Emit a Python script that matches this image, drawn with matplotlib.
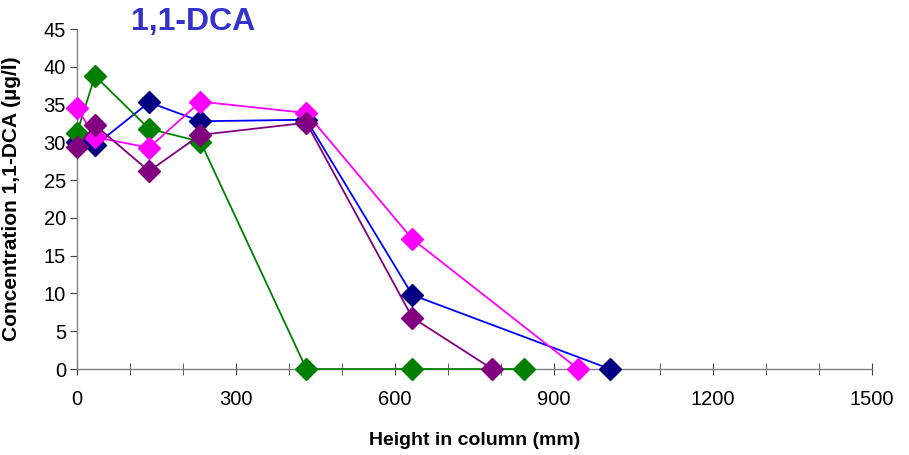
import matplotlib
matplotlib.use("Agg")
import matplotlib.pyplot as plt
from matplotlib.ticker import MultipleLocator

plt.rcParams['font.family'] = ['Liberation Sans', 'DejaVu Sans']

# ---------- DATA ----------
navy_x = [0, 34, 136, 233, 433, 633, 1006]
navy_y = [30.0, 29.6, 35.3, 32.8, 33.0, 9.8, 0]

green_x = [0, 34, 136, 233, 433, 633, 844]
green_y = [31.3, 38.8, 31.8, 30.1, 0, 0, 0]

magenta_x = [0, 34, 136, 233, 433, 633, 946]
magenta_y = [34.6, 30.7, 29.3, 35.4, 33.9, 17.2, 0]

purple_x = [0, 34, 136, 233, 433, 633, 784]
purple_y = [29.4, 32.3, 26.2, 31.0, 32.6, 6.8, 0]

# ---------- PLOT ----------
fig = plt.figure(figsize=(9.09, 4.55), dpi=100)
ax = fig.add_axes([0.0847, 0.189, 0.8743, 0.747])

ms = 11
ax.plot(navy_x, navy_y, color='#0000FF', lw=1.3, marker='D', ms=ms,
        mfc='#000080', mec='#000080', clip_on=False, zorder=3)
ax.plot(green_x, green_y, color='#008000', lw=1.3, marker='D', ms=ms,
        mfc='#008000', mec='#008000', clip_on=False, zorder=4)
ax.plot(magenta_x, magenta_y, color='#FF00FF', lw=1.3, marker='D', ms=ms,
        mfc='#FF00FF', mec='#FF00FF', clip_on=False, zorder=5)
ax.plot(purple_x, purple_y, color='#800080', lw=1.3, marker='D', ms=ms,
        mfc='#800080', mec='#800080', clip_on=False, zorder=6)

ax.set_xlim(0, 1500)
ax.set_ylim(0, 45)
ax.xaxis.set_major_locator(MultipleLocator(300))
ax.xaxis.set_minor_locator(MultipleLocator(100))
ax.yaxis.set_major_locator(MultipleLocator(5))

for s in ['top', 'right']:
    ax.spines[s].set_visible(False)
for s in ['left', 'bottom']:
    ax.spines[s].set_color('#808080')
    ax.spines[s].set_linewidth(1.0)

ax.tick_params(axis='x', which='both', direction='inout', length=8,
               color='#404040', labelsize=14.5, pad=11)
ax.tick_params(axis='y', direction='out', length=5, color='#404040',
               labelsize=14.5, pad=3)

ax.set_xlabel('Height in column (mm)', fontsize=14, fontweight='bold', va='center')
ax.xaxis.set_label_coords(0.5, -0.209)
ax.set_ylabel('Concentration 1,1-DCA (µg/l)', fontsize=15, fontweight='bold', va='center')
ax.yaxis.set_label_coords(-0.082, 0.5)

fig.text(0.213, 0.952, '1,1-DCA', fontsize=23, fontweight='bold', color='#3333CC',
         ha='center', va='center')

plt.savefig('out.png', dpi=100)
plt.close()
